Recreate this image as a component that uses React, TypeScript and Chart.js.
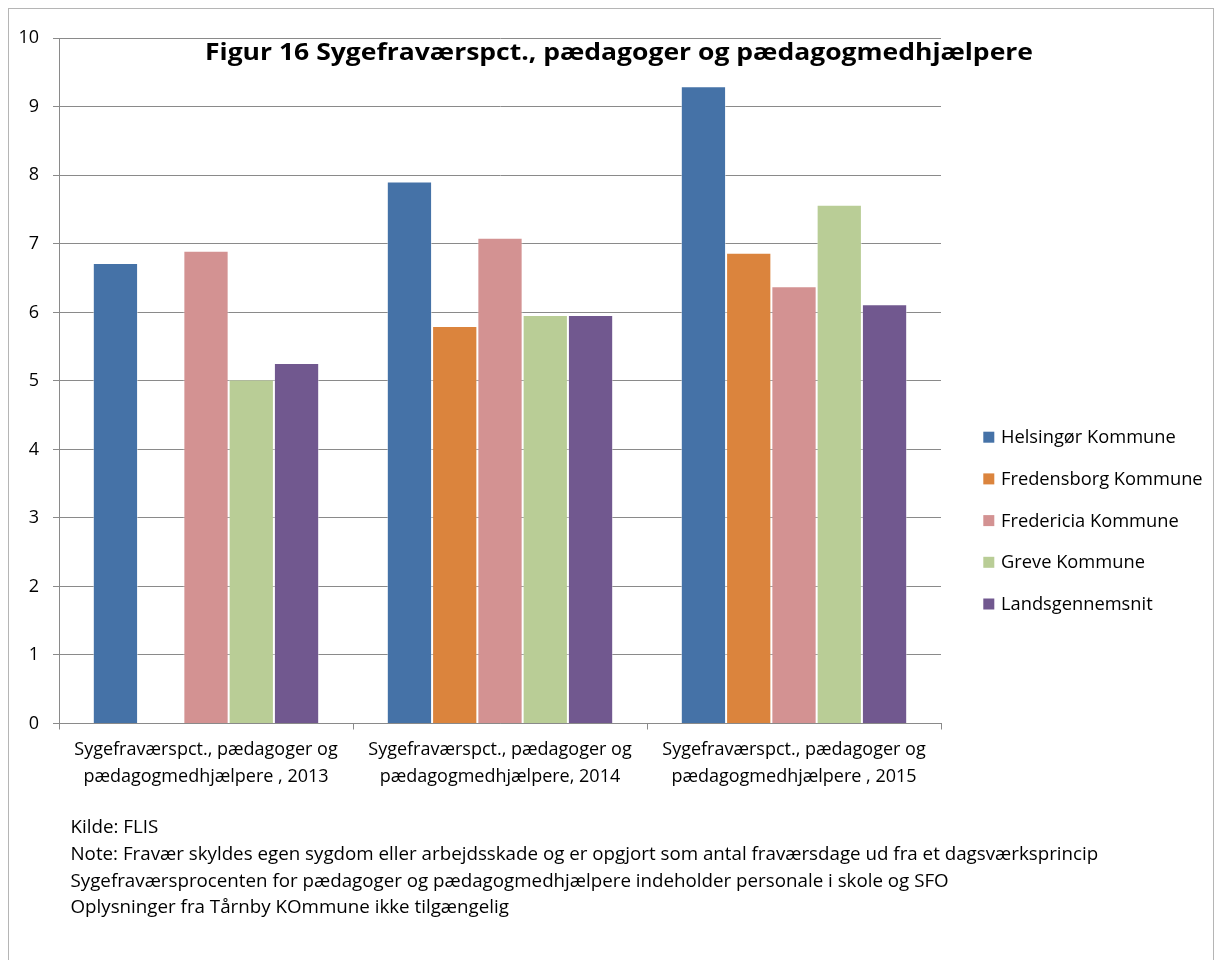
import React, { useEffect, useRef } from "react";
import { Chart, registerables } from "chart.js";

Chart.register(...registerables);

const categories: string[][] = [
  ["Sygefraværspct., pædagoger og", "pædagogmedhjælpere , 2013"],
  ["Sygefraværspct., pædagoger og", "pædagogmedhjælpere, 2014"],
  ["Sygefraværspct., pædagoger og", "pædagogmedhjælpere , 2015"],
];
const seriesNames = [
  "Helsingør Kommune",
  "Fredensborg Kommune",
  "Fredericia Kommune",
  "Greve Kommune",
  "Landsgennemsnit",
];
const helsingor = [6.72, 7.91, 9.3];
const fredensborg: (number | null)[] = [null, 5.8, 6.87];
const fredericia = [6.9, 7.09, 6.38];
const greve = [5.02, 5.96, 7.57];
const landsgennemsnit = [5.26, 5.96, 6.12];
const seriesColors = ["#4572A7", "#DB843D", "#D39292", "#B9CD96", "#71588F"];
const yMin = 0;
const yMax = 10;
const yStep = 1;

const titleText = "Figur 16 Sygefraværspct., pædagoger og pædagogmedhjælpere";
const footnotes = [
  "Kilde: FLIS",
  "Note: Fravær skyldes egen sygdom eller arbejdsskade og er opgjort som antal fraværsdage ud fra et dagsværksprincip",
  "Sygefraværsprocenten for pædagoger og pædagogmedhjælpere indeholder personale i skole og SFO",
  "Oplysninger fra Tårnby KOmmune ikke tilgængelig",
];

const FONT = "'Open Sans', sans-serif";
const GRID = "#8a8a8a";

const W = 1204;
const H = 960;

const decorPlugin = {
  id: "decor",
  afterDraw(chart: any) {
    const ctx = chart.ctx as CanvasRenderingContext2D;
    ctx.save();
    ctx.textBaseline = "alphabetic";
    // title (fitted to the reference's width)
    ctx.fillStyle = "#000";
    ctx.font = `bold 24px ${FONT}`;
    ctx.textAlign = "left";
    const tw = ctx.measureText(titleText).width;
    ctx.save();
    ctx.translate(196, 51);
    ctx.scale(828 / tw, 1);
    ctx.fillText(titleText, 0, 0);
    ctx.restore();
    // legend
    ctx.font = `18.3px ${FONT}`;
    chart.data.datasets.forEach((ds: any, i: number) => {
      const top = 422.7 + i * 41.7;
      ctx.fillStyle = ds.backgroundColor;
      ctx.fillRect(974.3, top, 11, 11);
      ctx.fillStyle = "#000";
      ctx.fillText(ds.label, 992, top + 11.6);
    });
    // footnotes
    ctx.font = `18.75px ${FONT}`;
    footnotes.forEach((t, i) => {
      ctx.fillText(t, 61.5, 824.3 + i * 26.7);
    });
    ctx.restore();
  },
};

export default function App() {
  const ref = useRef<HTMLCanvasElement | null>(null);
  useEffect(() => {
    if (!ref.current) return;
    const data = [helsingor, fredensborg, fredericia, greve, landsgennemsnit];
    const chart = new Chart(ref.current, {
      type: "bar",
      data: {
        labels: categories,
        datasets: seriesNames.map((name, i) => ({
          label: name,
          data: data[i],
          backgroundColor: seriesColors[i],
          borderColor: "rgba(255,255,255,0.45)",
          borderWidth: 1,
          barPercentage: 1,
          categoryPercentage: 0.77,
        })),
      },
      options: {
        responsive: false,
        animation: false,
        devicePixelRatio: 1,
        layout: { padding: { left: 0, top: 29.3, right: W - 932, bottom: H - 714.5 - 80 } },
        plugins: {
          legend: { display: false },
          title: { display: false },
          tooltip: { enabled: false },
        },
        scales: {
          x: {
            afterFit: (s: any) => {
              s.height = 80;
            },
            grid: {
              display: true,
              drawOnChartArea: false,
              drawTicks: true,
              tickLength: 6,
              color: GRID,
              offset: true,
            },
            border: { display: true, color: GRID, width: 1 },
            ticks: {
              color: "#000",
              font: { family: FONT, size: 18, lineHeight: 1.48 },
              padding: 7,
              maxRotation: 0,
              autoSkip: false,
            },
          },
          y: {
            min: yMin,
            max: yMax,
            afterFit: (s: any) => {
              s.width = 50;
            },
            grid: { color: GRID, tickLength: 6, lineWidth: 1 },
            border: { display: true, color: GRID, width: 1 },
            ticks: {
              stepSize: yStep,
              color: "#000",
              font: { family: FONT, size: 18 },
              padding: 14,
            },
          },
        },
      },
      plugins: [decorPlugin],
    } as any);
    return () => chart.destroy();
  }, []);
  return (
    <div
      style={{
        position: "relative",
        width: W,
        height: H,
        border: "1px solid #b5b5b5",
        background: "#fff",
      }}
    >
      <canvas ref={ref} width={W} height={H} style={{ display: "block", width: W, height: H }} />
    </div>
  );
}
